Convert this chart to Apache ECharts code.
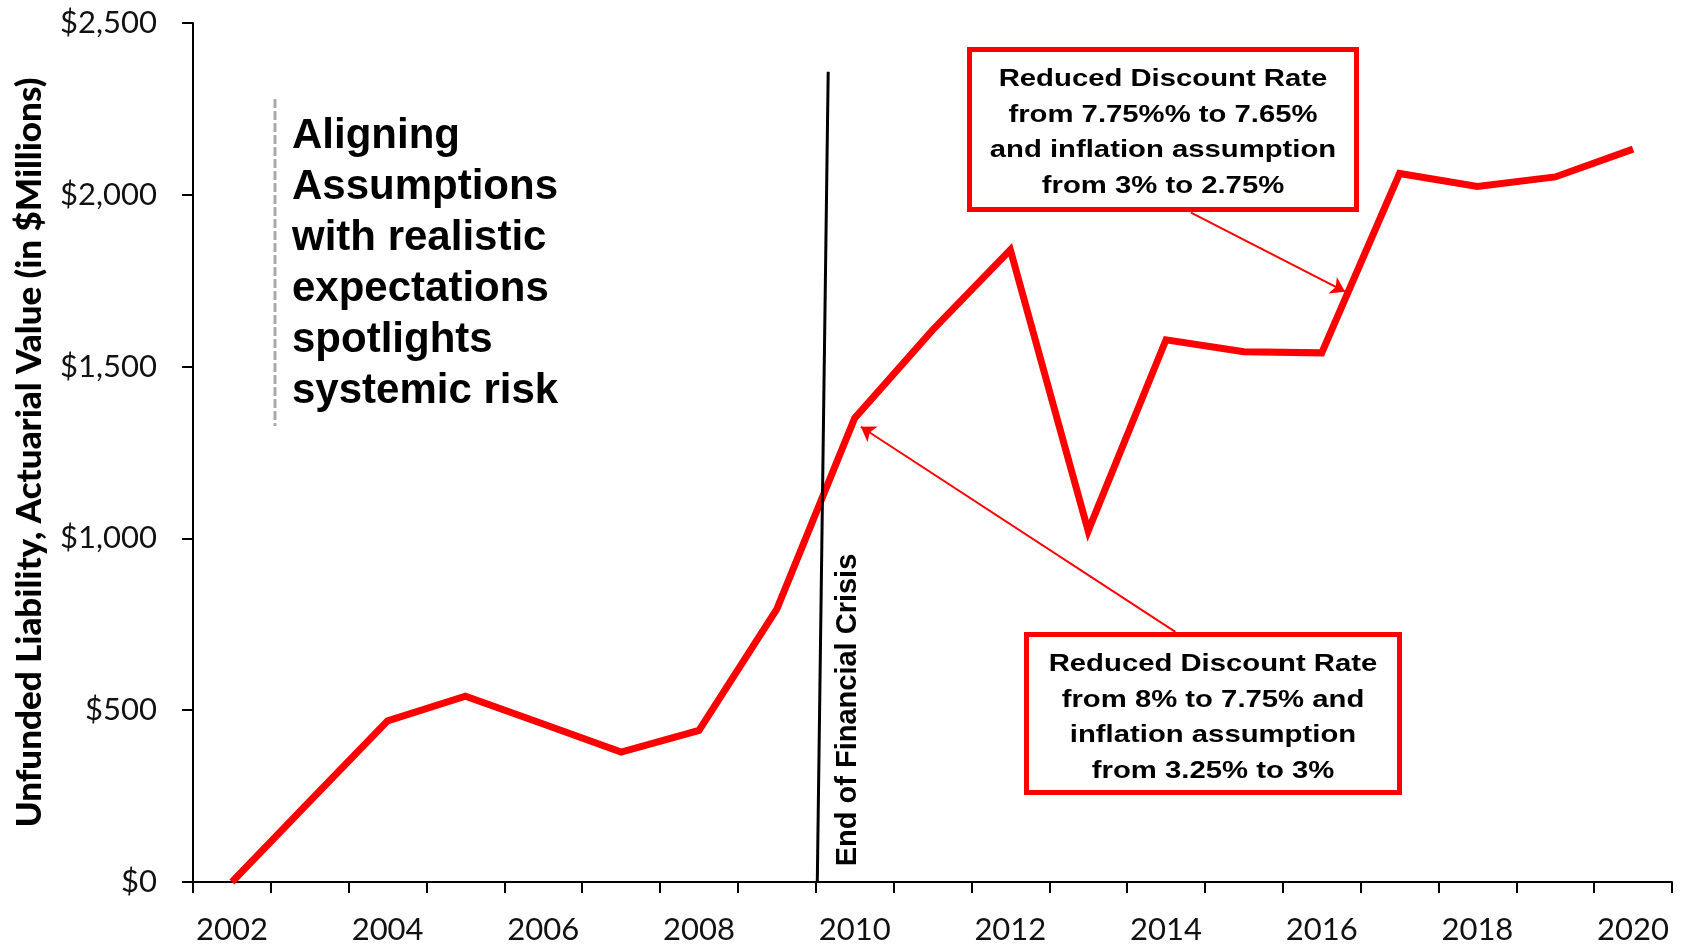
<!DOCTYPE html>
<html>
<head>
<meta charset="utf-8">
<script src="https://cdn.jsdelivr.net/npm/echarts@6/dist/echarts.min.js"></script>
<style>
  html, body { margin: 0; padding: 0; background: #fff; }
  #main { width: 1682px; height: 946px; }
</style>
</head>
<body>
<div id="main"></div>
<script>
// plan years and unfunded liability (actuarial value, $ millions)
var years = ['2002','2003','2004','2005','2006','2007','2008','2009','2010','2011',
             '2012','2013','2014','2015','2016','2017','2018','2019','2020'];
var liability = [0, 235, 469, 541, 460, 378, 441, 794, 1350, 1606,
                 1840, 1022, 1578, 1543, 1540, 2062, 2024, 2052, 2133];

// annotation lines in data space: [year position, $ millions]
var crisisLine = [[2009.52, 0], [2009.66, 2358]];
var arrowTo2010 = [[2014.12, 728], [2010.08, 1325]];
var arrowTo2016 = [[2014.32, 1948], [2016.30, 1718]];

var boxFont = 'bold 24px "Liberation Sans", Arial, sans-serif';

var option = {
    animation: false,
    backgroundColor: '#fff',
    grid: { left: 193, right: 10, top: 23, bottom: 64 },
    xAxis: [
        {
            type: 'category',
            data: years,
            boundaryGap: true,
            axisLine: { lineStyle: { color: '#000', width: 2 } },
            axisTick: { show: true, interval: 0, length: 11, lineStyle: { color: '#000', width: 2 } },
            axisLabel: {
                interval: 1,
                margin: 32,
                color: '#111',
                fontFamily: 'Lato',
                fontSize: 31
            },
            splitLine: { show: false }
        },
        {
            // hidden continuous axis used to place annotations
            type: 'value',
            min: 2001.5,
            max: 2020.5,
            show: false
        }
    ],
    yAxis: {
        type: 'value',
        min: 0,
        max: 2500,
        interval: 500,
        name: 'Unfunded Liability, Actuarial Value (in $Millions)',
        nameLocation: 'middle',
        nameGap: 146,
        nameTextStyle: {
            fontFamily: 'Lato',
            fontWeight: 900,
            fontSize: 35,
            color: '#000'
        },
        axisLine: { show: true, lineStyle: { color: '#000', width: 2 } },
        axisTick: { show: true, length: 11, lineStyle: { color: '#000', width: 2 } },
        axisLabel: {
            margin: 36,
            color: '#111',
            fontFamily: 'Lato',
            fontSize: 31,
            formatter: function (v) {
                return '$' + v.toLocaleString('en-US');
            }
        },
        splitLine: { show: false }
    },
    series: [
        {
            name: 'Unfunded Liability',
            type: 'line',
            data: liability,
            symbol: 'none',
            lineStyle: { color: '#ff0000', width: 7, join: 'miter' },
            z: 3
        },
        {
            type: 'lines',
            coordinateSystem: 'cartesian2d',
            xAxisIndex: 1,
            yAxisIndex: 0,
            symbol: ['none', 'none'],
            lineStyle: { color: '#000', width: 3, opacity: 1, curveness: 0 },
            data: [{ coords: crisisLine }],
            z: 4
        },
        {
            type: 'lines',
            coordinateSystem: 'cartesian2d',
            xAxisIndex: 1,
            yAxisIndex: 0,
            symbol: ['none', 'arrow'],
            symbolSize: 14,
            lineStyle: { color: '#ff0000', width: 2, opacity: 1, curveness: 0 },
            data: [{ coords: arrowTo2010 }, { coords: arrowTo2016 }],
            z: 5
        }
    ],
    graphic: [
        {
            type: 'line',
            shape: { x1: 275, y1: 99, x2: 275, y2: 426 },
            style: { stroke: '#aaaaaa', lineWidth: 3, lineDash: [9, 3] }
        },
        {
            type: 'text',
            x: 292,
            y: 111,
            style: {
                text: 'Aligning\nAssumptions\nwith realistic\nexpectations\nspotlights\nsystemic risk',
                font: 'bold 42px "Liberation Sans", Arial, sans-serif',
                lineHeight: 51,
                fill: '#000',
                textAlign: 'left',
                textVerticalAlign: 'top'
            }
        },
        {
            type: 'text',
            x: 848,
            y: 710,
            rotation: Math.PI / 2,
            style: {
                text: 'End of Financial Crisis',
                font: 'bold 29px "Liberation Sans", Arial, sans-serif',
                fill: '#000',
                textAlign: 'center',
                textVerticalAlign: 'middle'
            },
            z: 10
        },
        {
            type: 'rect',
            shape: { x: 969.5, y: 49.5, width: 387, height: 160 },
            style: { fill: '#fff', stroke: '#ff0000', lineWidth: 5 },
            z: 20
        },
        {
            type: 'text',
            x: 1163,
            y: 133,
            scaleX: 1.22,
            style: {
                text: 'Reduced Discount Rate\nfrom 7.75%% to 7.65%\nand inflation assumption\nfrom 3% to 2.75%',
                font: boxFont,
                lineHeight: 35.5,
                fill: '#000',
                textAlign: 'center',
                textVerticalAlign: 'middle'
            },
            z: 21
        },
        {
            type: 'rect',
            shape: { x: 1026.5, y: 634.5, width: 373, height: 158 },
            style: { fill: '#fff', stroke: '#ff0000', lineWidth: 5 },
            z: 20
        },
        {
            type: 'text',
            x: 1213,
            y: 718,
            scaleX: 1.22,
            style: {
                text: 'Reduced Discount Rate\nfrom 8% to 7.75% and\ninflation assumption\nfrom 3.25% to 3%',
                font: boxFont,
                lineHeight: 35.5,
                fill: '#000',
                textAlign: 'center',
                textVerticalAlign: 'middle'
            },
            z: 21
        }
    ]
};

var myChart = echarts.init(document.getElementById('main'));
myChart.setOption(option);
</script>
</body>
</html>
